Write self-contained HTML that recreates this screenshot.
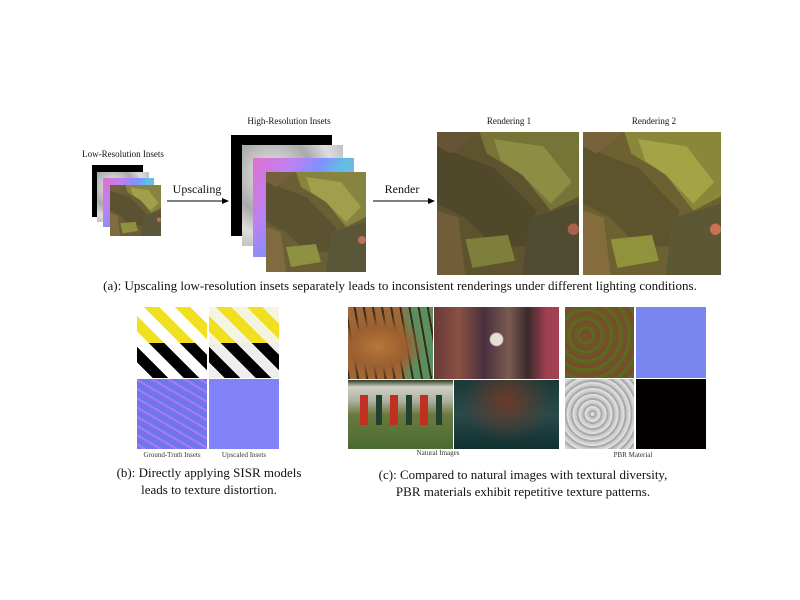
<!DOCTYPE html>
<html><head><meta charset="utf-8">
<style>
body{margin:0;background:#fff;width:800px;height:600px;position:relative;overflow:hidden;font-family:"Liberation Serif",serif;color:#111}
.a{position:absolute}
.lbl{position:absolute;font-size:9px;white-space:nowrap;transform:translateX(-50%)}
.sm{position:absolute;font-size:7px;white-space:nowrap;transform:translateX(-50%);color:#333}
.cap{position:absolute;font-size:13px;white-space:nowrap;transform:translateX(-50%);text-align:center;line-height:17px}
.blk{background:#000}
.gray{background:radial-gradient(circle at 30% 30%,#eee,#aaa 40%,#ddd 60%,#999)}
.norm{background:linear-gradient(120deg,#e070d0,#c080f0 25%,#8090ff 45%,#60c0e0 60%,#9fa0ff 80%,#d080e0)}
svg{display:block}
</style></head><body>
<svg width="0" height="0" style="position:absolute">
<defs>
<symbol id="leaf" viewBox="0 0 100 100" preserveAspectRatio="none">
<rect width="100" height="100" fill="#6a5e34"/>
<path d="M30 0 L100 0 L100 45 L80 55 L60 30 L35 15Z" fill="#86843e"/>
<path d="M40 5 L75 10 L95 35 L80 50 L60 30 L45 20Z" fill="#a0a04c"/>
<path d="M0 10 L40 25 L70 55 L65 80 L40 80 L20 60 L0 50Z" fill="#5a5230"/>
<path d="M20 75 L50 72 L55 90 L25 95Z" fill="#8e9042"/>
<path d="M65 60 L100 50 L100 100 L60 100Z" fill="#5a5638"/>
<path d="M0 55 L15 60 L20 100 L0 100Z" fill="#806a40"/>
<circle cx="96" cy="68" r="4" fill="#c07058"/>
<path d="M0 0 L30 0 L10 15 L0 10Z" fill="#74603e"/>
</symbol>
</defs>
</svg>

<!-- (a) -->
<div class="lbl" style="left:123px;top:149px">Low-Resolution Insets</div>
<div class="a blk" style="left:92px;top:165px;width:51px;height:52px"></div>
<div class="a gray" style="left:97px;top:172px;width:52px;height:50px"></div>
<div class="a norm" style="left:103px;top:178px;width:51px;height:49px"></div>
<svg class="a" style="left:110px;top:185px" width="51" height="51"><use href="#leaf"/></svg>

<div class="lbl" style="left:197px;top:182px;font-size:12px">Upscaling</div>
<svg class="a" style="left:167px;top:197px" width="62" height="8"><line x1="0" y1="4" x2="56" y2="4" stroke="#000" stroke-width="1"/><path d="M55 1 L62 4 L55 7Z" fill="#000"/></svg>

<div class="lbl" style="left:289px;top:116px">High-Resolution Insets</div>
<div class="a blk" style="left:231px;top:135px;width:101px;height:101px"></div>
<div class="a gray" style="left:242px;top:145px;width:101px;height:101px"></div>
<div class="a norm" style="left:253px;top:158px;width:101px;height:99px"></div>
<svg class="a" style="left:266px;top:172px" width="100" height="100"><use href="#leaf"/></svg>

<div class="lbl" style="left:402px;top:182px;font-size:12px">Render</div>
<svg class="a" style="left:373px;top:197px" width="62" height="8"><line x1="0" y1="4" x2="56" y2="4" stroke="#000" stroke-width="1"/><path d="M55 1 L62 4 L55 7Z" fill="#000"/></svg>

<div class="lbl" style="left:509px;top:116px">Rendering 1</div>
<div class="lbl" style="left:654px;top:116px">Rendering 2</div>
<svg class="a" style="left:437px;top:132px;filter:brightness(0.88)" width="142" height="143"><use href="#leaf"/></svg>
<svg class="a" style="left:583px;top:132px;filter:brightness(1.02) saturate(1.1)" width="138" height="143"><use href="#leaf"/></svg>

<div class="cap" style="left:400px;top:277px">(a): Upscaling low-resolution insets separately leads to inconsistent renderings under different lighting conditions.</div>

<!-- (b) -->
<div class="a" style="left:137px;top:307px;width:70px;height:71px;background:repeating-linear-gradient(45deg,#fff 0 11px,#f0e020 11px 22px);"></div>
<div class="a" style="left:137px;top:343px;width:70px;height:35px;background:repeating-linear-gradient(45deg,#fff 0 11px,#000 11px 22px)"></div>
<div class="a" style="left:209px;top:307px;width:70px;height:71px;background:repeating-linear-gradient(45deg,#f4f4e0 0 11px,#f0e020 11px 22px)"></div>
<div class="a" style="left:209px;top:343px;width:70px;height:35px;background:repeating-linear-gradient(45deg,#eee 0 11px,#000 11px 22px)"></div>
<div class="a" style="left:137px;top:379px;width:70px;height:70px;background:repeating-linear-gradient(30deg,#7a70f0 0 3px,#a080f0 3px 5px,#6a78e8 5px 8px)"></div>
<div class="a" style="left:209px;top:379px;width:70px;height:70px;background:#8282f8"></div>
<div class="sm" style="left:172px;top:451px">Ground-Truth Insets</div>
<div class="sm" style="left:244px;top:451px">Upscaled Insets</div>
<div class="cap" style="left:209px;top:464px">(b): Directly applying SISR models<br>leads to texture distortion.</div>

<!-- (c) -->
<div class="a" style="left:348px;top:307px;width:85px;height:72px;background:radial-gradient(ellipse at 35% 55%,#b8763a 0,#9a6030 35%,transparent 60%),repeating-linear-gradient(80deg,#3a2a1a 0 2px,transparent 2px 9px),linear-gradient(90deg,#a06838 60%,#5a9060 75%)"></div>
<div class="a" style="left:434px;top:307px;width:125px;height:72px;background:radial-gradient(circle at 50% 45%,#e8e0d0 0 8%,transparent 10%),linear-gradient(90deg,#6a3a3a,#8a5040 20%,#4a3040 40%,#7a5a50 60%,#3a2a2a 75%,#a04050 90%),#403030"></div>
<div class="a" style="left:348px;top:380px;width:105px;height:69px;background:linear-gradient(#2a3a20 0,#d0d0c8 10%,#b0b0a0 30%,#6a7a40 50%,#4a6a30 100%)"></div>
<div class="a" style="left:360px;top:395px;width:85px;height:30px;background:repeating-linear-gradient(90deg,#c03020 0 8px,transparent 8px 16px,#204030 16px 22px,transparent 22px 30px)"></div>
<div class="a" style="left:454px;top:380px;width:105px;height:69px;background:radial-gradient(ellipse at 50% 30%,#6a3a2a,transparent 60%),linear-gradient(#1a3a3a,#2a4a4a 50%,#103030)"></div>
<div class="a" style="left:565px;top:307px;width:69px;height:71px;background:repeating-radial-gradient(circle at 30% 40%,#6a5a20 0 3px,#7a4a30 3px 6px,#5a6a20 6px 9px)"></div>
<div class="a" style="left:636px;top:307px;width:70px;height:71px;background:#7a86f0"></div>
<div class="a" style="left:565px;top:379px;width:69px;height:70px;background:repeating-radial-gradient(circle at 40% 50%,#ddd 0 2px,#aaa 2px 4px,#ccc 4px 6px)"></div>
<div class="a" style="left:636px;top:379px;width:70px;height:70px;background:#050000"></div>
<div class="sm" style="left:438px;top:449px">Natural Images</div>
<div class="sm" style="left:633px;top:451px">PBR Material</div>
<div class="cap" style="left:523px;top:466px">(c): Compared to natural images with textural diversity,<br>PBR materials exhibit repetitive texture patterns.</div>
</body></html>
